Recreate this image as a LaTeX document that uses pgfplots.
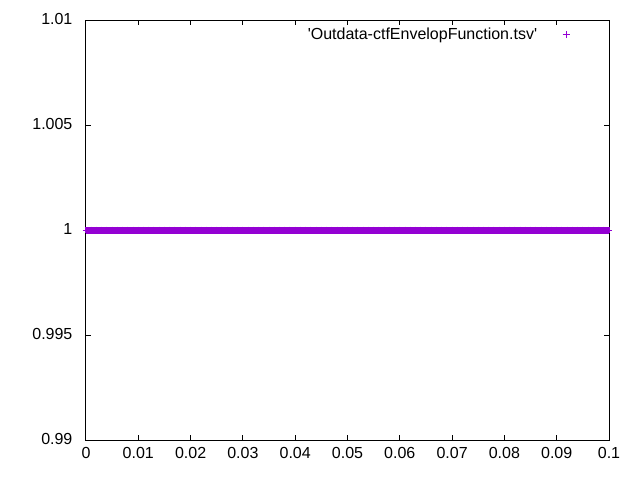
\documentclass[border=0pt]{standalone}
\usepackage{pgfplots}
\pgfplotsset{compat=1.18}
\usepackage{fontspec}
\setmainfont{Liberation Sans}
\definecolor{dv}{HTML}{9400D3}
\begin{document}
\fontsize{12pt}{14pt}\selectfont
\begin{tikzpicture}
\begin{axis}[
  scale only axis,
  width=392.25pt, height=315pt,
  at={(0,0)}, anchor=south west,
  xmin=0, xmax=0.1, ymin=0.99, ymax=1.01,
  xtick={0,0.01,0.02,0.03,0.04,0.05,0.06,0.07,0.08,0.09,0.1},
  xticklabels={0,0.01,0.02,0.03,0.04,0.05,0.06,0.07,0.08,0.09,0.1},
  ytick={0.99,0.995,1,1.005,1.01},
  yticklabels={0.99,0.995,1,1.005,1.01},
  /pgf/number format/assume math mode=true,
  ticklabel style={font=\fontsize{12pt}{14pt}\selectfont},
  tick align=inside,
  major tick length=4pt,
  tick style={black, line width=0.75pt},
  axis line style={black, line width=0.75pt},
  xticklabel style={yshift=-1pt},
  yticklabel style={xshift=-6pt, yshift=1pt},
  legend style={at={(1,1)}, anchor=north east, draw=none, fill=none,
    xshift=-26pt, yshift=-1.5pt, font=\fontsize{12pt}{14pt}\selectfont},
  legend cell align=right,
  legend plot pos=right,
  legend image code/.code={\path[draw=none] (0pt,0pt) -- (1pt,0pt);\draw[dv, line width=0.75pt] (19.75pt,-2.6pt) -- (19.75pt,2.6pt) (17.15pt,0pt) -- (22.35pt,0pt);},
]
\addplot[color=dv, line width=5.25pt, mark=+, mark size=2.6pt, mark options={line width=0.75pt}] coordinates {
(0,1) (0.001,1) (0.002,1) (0.003,1) (0.004,1) (0.005,1) (0.006,1) (0.007,1) (0.008,1) (0.009,1)
(0.010,1) (0.011,1) (0.012,1) (0.013,1) (0.014,1) (0.015,1) (0.016,1) (0.017,1) (0.018,1) (0.019,1)
(0.020,1) (0.021,1) (0.022,1) (0.023,1) (0.024,1) (0.025,1) (0.026,1) (0.027,1) (0.028,1) (0.029,1)
(0.030,1) (0.031,1) (0.032,1) (0.033,1) (0.034,1) (0.035,1) (0.036,1) (0.037,1) (0.038,1) (0.039,1)
(0.040,1) (0.041,1) (0.042,1) (0.043,1) (0.044,1) (0.045,1) (0.046,1) (0.047,1) (0.048,1) (0.049,1)
(0.050,1) (0.051,1) (0.052,1) (0.053,1) (0.054,1) (0.055,1) (0.056,1) (0.057,1) (0.058,1) (0.059,1)
(0.060,1) (0.061,1) (0.062,1) (0.063,1) (0.064,1) (0.065,1) (0.066,1) (0.067,1) (0.068,1) (0.069,1)
(0.070,1) (0.071,1) (0.072,1) (0.073,1) (0.074,1) (0.075,1) (0.076,1) (0.077,1) (0.078,1) (0.079,1)
(0.080,1) (0.081,1) (0.082,1) (0.083,1) (0.084,1) (0.085,1) (0.086,1) (0.087,1) (0.088,1) (0.089,1)
(0.090,1) (0.091,1) (0.092,1) (0.093,1) (0.094,1) (0.095,1) (0.096,1) (0.097,1) (0.098,1) (0.099,1)
(0.100,1)
};
\addlegendentry{\textquotesingle Outdata-ctfEnvelopFunction.tsv\textquotesingle}
\end{axis}
\path[use as bounding box] (-64.5pt,-30pt) rectangle (415.5pt,330pt);
\end{tikzpicture}
\end{document}
